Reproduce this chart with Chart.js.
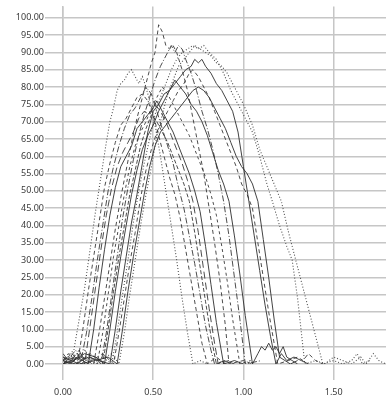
<!DOCTYPE html>
<html lang="es">
<head>
<meta charset="utf-8">
<title>Curvas</title>
<script src="https://cdn.jsdelivr.net/npm/chart.js@4.4.1/dist/chart.umd.min.js"></script>
<style>
  html, body { margin: 0; padding: 0; background: #fff; overflow: hidden; }
  canvas { display: block; }
</style>
</head>
<body>
<canvas id="grafica" width="386" height="399"></canvas>
<script>
// ===================== DATOS DE LAS CURVAS =====================
const ticksX = [0, 0.5, 1, 1.5];
const ticksY = [0, 5, 10, 15, 20, 25, 30, 35, 40, 45, 50, 55, 60, 65, 70, 75, 80, 85, 90, 95, 100];

const c01x = [0, 0.02, 0.04, 0.06, 0.09, 0.12, 0.15, 0.18, 0.21, 0.24, 0.26, 0.28, 0.30, 0.32, 0.34, 0.36, 0.38, 0.40, 0.42, 0.44, 0.46, 0.48, 0.51, 0.54, 0.57, 0.60, 0.63, 0.66, 0.69, 0.72, 0.76, 0.80];
const c01y = [2, 1, 3, 4, 13, 22, 33, 44, 54, 64, 70, 74, 79, 81, 82, 84, 85, 83, 81, 83, 80, 76, 69, 60, 50, 40, 30, 19, 9, 0, 1, 0];

const c02x = [0, 0.03, 0.06, 0.08, 0.11, 0.14, 0.17, 0.20, 0.23, 0.26, 0.29, 0.32, 0.35, 0.38, 0.41, 0.44, 0.47, 0.50, 0.53, 0.56, 0.59, 0.62, 0.65, 0.68, 0.71, 0.74, 0.77, 0.80, 0.85, 0.90];
const c02y = [1, 3, 1, 0, 10, 21, 31, 41, 51, 58, 64, 69, 71, 74, 77, 78, 76, 72, 66, 60, 54, 49, 42, 33, 24, 15, 6, 0, 2, 0];

const c03x = [0, 0.04, 0.07, 0.10, 0.13, 0.16, 0.19, 0.22, 0.25, 0.28, 0.31, 0.34, 0.37, 0.40, 0.43, 0.46, 0.49, 0.52, 0.55, 0.58, 0.61, 0.64, 0.67, 0.70, 0.73, 0.76, 0.79, 0.82, 0.84, 0.90, 0.95];
const c03y = [0, 2, 4, 1, 9, 19, 30, 40, 50, 57, 63, 68, 72, 74, 77, 80, 78, 73, 68, 63, 58, 51, 45, 37, 29, 20, 11, 4, 0, 1, 0];

const c04x = [0, 0.03, 0.06, 0.09, 0.12, 0.15, 0.18, 0.21, 0.24, 0.27, 0.30, 0.33, 0.36, 0.39, 0.42, 0.45, 0.48, 0.51, 0.54, 0.57, 0.60, 0.63, 0.66, 0.69, 0.72, 0.75, 0.78, 0.81, 0.84, 0.86, 0.92];
const c04y = [3, 1, 2, 4, 0, 11, 22, 33, 43, 51, 57, 61, 64, 67, 71, 73, 72, 75, 73, 70, 66, 62, 58, 53, 47, 38, 27, 16, 6, 0, 1];

const c05x = [0, 0.04, 0.08, 0.11, 0.14, 0.17, 0.20, 0.23, 0.26, 0.29, 0.32, 0.35, 0.38, 0.41, 0.44, 0.47, 0.50, 0.52, 0.55, 0.58, 0.61, 0.64, 0.67, 0.70, 0.73, 0.76, 0.79, 0.82, 0.85, 0.89, 0.95, 1.00];
const c05y = [1, 0, 2, 1, 0, 10, 22, 33, 43, 51, 57, 60, 63, 68, 70, 72, 74, 76, 73, 70, 67, 63, 59, 55, 50, 44, 34, 23, 12, 0, 1, 0];

const c06x = [0, 0.05, 0.09, 0.13, 0.17, 0.20, 0.23, 0.26, 0.29, 0.32, 0.35, 0.38, 0.41, 0.44, 0.47, 0.49, 0.51, 0.53, 0.55, 0.57, 0.59, 0.61, 0.63, 0.66, 0.69, 0.72, 0.75, 0.78, 0.81, 0.84, 0.87, 0.90, 0.92, 1.00, 1.05];
const c06y = [2, 0, 3, 1, 0, 9, 19, 29, 39, 48, 56, 64, 71, 77, 83, 87, 90, 98, 96, 92, 91, 92, 90, 85, 79, 71, 63, 55, 45, 35, 24, 11, 0, 1, 0];

const c07x = [0, 0.04, 0.08, 0.12, 0.16, 0.19, 0.22, 0.25, 0.28, 0.31, 0.34, 0.37, 0.40, 0.43, 0.46, 0.49, 0.52, 0.55, 0.58, 0.61, 0.64, 0.67, 0.70, 0.73, 0.76, 0.79, 0.82, 0.85, 0.88, 0.91, 0.94, 0.98, 1.04];
const c07y = [0, 2, 1, 4, 2, 0, 9, 20, 31, 40, 49, 57, 63, 67, 70, 74, 77, 80, 78, 75, 72, 69, 66, 62, 58, 54, 49, 43, 34, 24, 13, 0, 1];

const c08x = [0, 0.05, 0.10, 0.15, 0.19, 0.21, 0.24, 0.27, 0.30, 0.33, 0.36, 0.39, 0.42, 0.45, 0.48, 0.51, 0.54, 0.57, 0.60, 0.62, 0.64, 0.66, 0.68, 0.71, 0.74, 0.77, 0.80, 0.83, 0.86, 0.89, 0.92, 0.95, 0.98, 1.01, 1.10];
const c08y = [1, 3, 0, 2, 1, 0, 9, 20, 31, 42, 51, 59, 66, 72, 77, 82, 86, 89, 92, 90, 92, 91, 88, 84, 79, 73, 68, 62, 55, 47, 37, 25, 13, 0, 1];

const c09x = [0, 0.06, 0.12, 0.18, 0.23, 0.26, 0.29, 0.32, 0.35, 0.38, 0.41, 0.44, 0.47, 0.50, 0.53, 0.56, 0.59, 0.62, 0.65, 0.68, 0.71, 0.74, 0.77, 0.80, 0.83, 0.86, 0.89, 0.92, 0.95, 0.98, 1.01, 1.05, 1.08, 1.10, 1.12, 1.14, 1.16, 1.18, 1.20, 1.22, 1.24, 1.27, 1.30];
const c09y = [0, 1, 3, 2, 0, 10, 21, 31, 40, 49, 56, 62, 66, 69, 73, 76, 79, 82, 80, 78, 75, 73, 70, 66, 61, 56, 52, 47, 37, 26, 14, 0, 3, 5, 4, 6, 4, 5, 3, 5, 2, 1, 0];

const c10x = [0, 0.05, 0.10, 0.15, 0.20, 0.22, 0.25, 0.28, 0.31, 0.34, 0.37, 0.40, 0.43, 0.46, 0.49, 0.52, 0.55, 0.58, 0.61, 0.64, 0.67, 0.70, 0.73, 0.76, 0.79, 0.82, 0.85, 0.90];
const c10y = [0, 2, 1, 3, 1, 0, 10, 21, 31, 40, 49, 56, 63, 68, 72, 70, 67, 64, 60, 56, 52, 47, 38, 28, 18, 8, 0, 1];

const c11x = [0, 0.07, 0.14, 0.20, 0.26, 0.29, 0.32, 0.35, 0.38, 0.41, 0.44, 0.47, 0.50, 0.53, 0.56, 0.59, 0.62, 0.65, 0.68, 0.71, 0.73, 0.75, 0.77, 0.79, 0.82, 0.85, 0.88, 0.91, 0.94, 0.97, 1.00, 1.03, 1.06, 1.09, 1.12, 1.15, 1.18, 1.21, 1.24, 1.28, 1.32, 1.36];
const c11y = [1, 0, 2, 1, 0, 10, 21, 31, 41, 49, 58, 67, 73, 75, 78, 79, 81, 83, 85, 86, 88, 87, 88, 86, 84, 81, 79, 76, 73, 67, 57, 47, 37, 27, 17, 8, 0, 3, 1, 2, 1, 0];

const c12x = [0, 0.08, 0.16, 0.22, 0.28, 0.31, 0.34, 0.37, 0.40, 0.43, 0.46, 0.49, 0.52, 0.55, 0.58, 0.61, 0.64, 0.67, 0.70, 0.72, 0.75, 0.78, 0.81, 0.84, 0.87, 0.90, 0.93, 0.96, 0.99, 1.02, 1.05, 1.08, 1.11, 1.14, 1.17, 1.19, 1.25, 1.30, 1.33, 1.36, 1.40, 1.44];
const c12y = [0, 2, 1, 3, 0, 9, 19, 29, 38, 48, 56, 62, 67, 70, 73, 76, 79, 81, 84, 85, 83, 80, 77, 73, 69, 65, 61, 57, 52, 49, 45, 35, 25, 15, 6, 0, 1, 2, 1, 3, 1, 0];

const c13x = [0, 0.09, 0.18, 0.25, 0.30, 0.33, 0.36, 0.39, 0.42, 0.45, 0.48, 0.51, 0.54, 0.57, 0.60, 0.63, 0.66, 0.69, 0.72, 0.75, 0.78, 0.81, 0.84, 0.87, 0.90, 0.93, 0.96, 0.99, 1.02, 1.05, 1.08, 1.11, 1.14, 1.17, 1.20, 1.23, 1.26, 1.30];
const c13y = [2, 0, 1, 2, 0, 10, 21, 31, 40, 49, 57, 63, 67, 69, 71, 73, 75, 77, 79, 80, 79, 77, 74, 71, 68, 64, 60, 57, 55, 52, 47, 36, 25, 13, 2, 1, 0, 1];

const c14x = [0, 0.08, 0.16, 0.22, 0.27, 0.30, 0.33, 0.36, 0.39, 0.42, 0.45, 0.48, 0.51, 0.54, 0.57, 0.60, 0.63, 0.66, 0.69, 0.72, 0.75, 0.78, 0.81, 0.85, 0.89, 0.93, 0.97, 1.01, 1.05, 1.09, 1.13, 1.16, 1.20, 1.24, 1.27, 1.30, 1.34, 1.40, 1.45, 1.50, 1.55, 1.60, 1.65, 1.68, 1.72, 1.75, 1.79];
const c14y = [1, 3, 0, 2, 0, 9, 20, 30, 41, 50, 58, 65, 72, 77, 81, 85, 88, 90, 91, 92, 91, 92, 90, 88, 84, 79, 75, 71, 67, 60, 52, 47, 40, 34, 30, 19, 0, 1, 0, 2, 1, 0, 2, 0, 3, 1, 0];

const c15x = [0, 0.10, 0.20, 0.27, 0.31, 0.34, 0.37, 0.40, 0.43, 0.46, 0.49, 0.52, 0.55, 0.58, 0.61, 0.64, 0.67, 0.70, 0.73, 0.76, 0.79, 0.82, 0.85, 0.88, 0.91, 0.95, 1.00, 1.05, 1.09, 1.13, 1.17, 1.21, 1.25, 1.29, 1.33, 1.37, 1.41, 1.44, 1.50, 1.55, 1.60, 1.63, 1.66, 1.70];
const c15y = [0, 2, 1, 3, 0, 9, 20, 30, 40, 49, 57, 66, 72, 78, 82, 86, 88, 90, 92, 91, 90, 89, 87, 86, 84, 80, 75, 69, 62, 57, 52, 47, 38, 30, 22, 14, 6, 0, 1, 0, 1, 3, 0, 1];

const curvasX = [c01x, c02x, c03x, c04x, c05x, c06x, c07x, c08x, c09x, c10x, c11x, c12x, c13x, c14x, c15x];
const curvasY = [c01y, c02y, c03y, c04y, c05y, c06y, c07y, c08y, c09y, c10y, c11y, c12y, c13y, c14y, c15y];

// ===================== ESTILOS DE TRAZO =====================
const PUNTEADO = [1, 2];
const GUIONES = [4, 3];
const GUION_LARGO = [7, 4];
const GUION_PUNTO = [6, 2, 1, 2];
const CONTINUO = [];

const trazos = [PUNTEADO, GUIONES, GUION_PUNTO, GUION_LARGO, CONTINUO, GUIONES, [3, 3], GUION_PUNTO,
                CONTINUO, [4, 2], CONTINUO, GUIONES, CONTINUO, PUNTEADO, PUNTEADO];

function colorTrazo(dash){
  if(dash === PUNTEADO) return '#505050';
  if(dash.length === 0) return '#2e2e2e';
  return '#383838';
}

// ===================== GRÁFICA =====================
function armarPuntos(xs, ys){
  return xs.map((x, i) => ({ x: x, y: ys[i] }));
}

function crearGrafica(){
  const ctx = document.getElementById('grafica');
  const fuente = { family: "'Noto Sans', sans-serif", size: 9 };
  const gris = '#c6c6c6';

  new Chart(ctx, {
    type: 'scatter',
    data: {
      datasets: curvasX.map((xs, i) => ({
        data: armarPuntos(xs, curvasY[i]),
        showLine: true,
        borderColor: colorTrazo(trazos[i]),
        borderWidth: trazos[i] === PUNTEADO ? 1.1 : 0.9,
        borderDash: trazos[i],
        pointRadius: 0,
        tension: 0,
        fill: false
      }))
    },
    options: {
      responsive: false,
      animation: false,
      devicePixelRatio: 1,
      layout: { padding: { top: 6, right: 0, left: 0, bottom: 0 } },
      plugins: { legend: { display: false }, tooltip: { enabled: false } },
      scales: {
        x: {
          type: 'linear',
          min: 0,
          max: 1.79,
          afterBuildTicks: s => { s.ticks = ticksX.map(v => ({ value: v })); },
          afterFit: s => { s.height = 35; },
          grid: { color: gris, lineWidth: 1.5, tickLength: 16 },
          border: { display: false },
          ticks: { font: fuente, color: '#3a3a3a', padding: 7, maxRotation: 0,
                   callback: v => Number(v).toFixed(2) }
        },
        y: {
          min: 0,
          max: 103.3,
          afterBuildTicks: s => { s.ticks = ticksY.map(v => ({ value: v })); },
          afterFit: s => { s.width = 63; },
          grid: { color: gris, lineWidth: 1.5, tickLength: 18 },
          border: { display: true, color: gris, width: 1.5 },
          ticks: { font: fuente, color: '#3a3a3a', padding: 1,
                   callback: v => Number(v).toFixed(2) }
        }
      }
    }
  });
}

document.addEventListener('DOMContentLoaded', crearGrafica);
</script>
</body>
</html>
